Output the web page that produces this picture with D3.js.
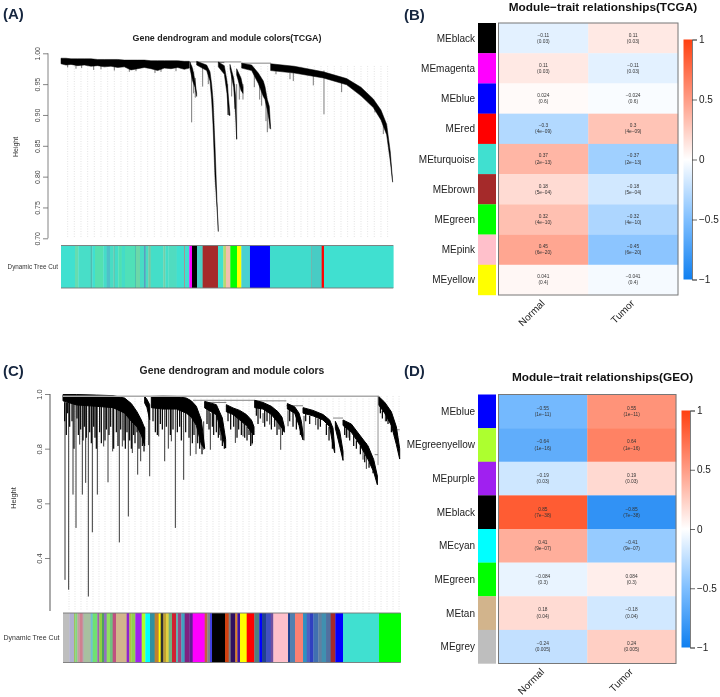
<!DOCTYPE html>
<html>
<head>
<meta charset="utf-8">
<script src="https://cdn.jsdelivr.net/npm/d3@7"></script>
<style>
  html, body { margin: 0; padding: 0; background: #fff; }
  svg { display: block; filter: blur(0.3px); }
  text { font-family: "Liberation Sans", Arial, sans-serif; }
</style>
</head>
<body>
<div id="chart"></div>
<script>
// heatmap values
const tcgaModules = ["MEblack", "MEmagenta", "MEblue", "MEred", "MEturquoise", "MEbrown", "MEgreen", "MEpink", "MEyellow"];
const tcgaColors = ["#000000", "#ff00ff", "#0000ff", "#ff0000", "#40e0d0", "#a52a2a", "#00ff00", "#ffc0cb", "#ffff00"];
const tcgaNormal = [-0.11, 0.11, 0.024, -0.3, 0.37, 0.18, 0.32, 0.45, 0.041];
const tcgaTumor = [0.11, -0.11, -0.024, 0.3, -0.37, -0.18, -0.32, -0.45, -0.041];
const tcgaP = ["0.03", "0.03", "0.6", "4e−09", "2e−13", "5e−04", "4e−10", "6e−20", "0.4"];

const geoModules = ["MEblue", "MEgreenyellow", "MEpurple", "MEblack", "MEcyan", "MEgreen", "MEtan", "MEgrey"];
const geoColors = ["#0000ff", "#adff2f", "#a020f0", "#000000", "#00ffff", "#00ff00", "#d2b48c", "#bebebe"];
const geoNormal = [-0.55, -0.64, -0.19, 0.85, 0.41, -0.084, 0.18, -0.24];
const geoTumor = [0.55, 0.64, 0.19, -0.85, -0.41, 0.084, -0.18, 0.24];
const geoP = ["1e−11", "1e−16", "0.03", "7e−38", "9e−07", "0.3", "0.04", "0.005"];

const traits = ["Normal", "Tumor"];
const legendTicks = [-1, -0.5, 0, 0.5, 1];

// dendrogram (A): [gene order, top height, bottom height]
const bandsA = [
  [[0,.992,.983],[15,.992,.981],[30,.991,.982],[50,.991,.980],[70,.991,.981],[90,.991,.979],[110,.990,.980],[130,.990,.978],[150,.990,.979],[170,.990,.977],[190,.989,.978],[210,.989,.973],[230,.989,.975],[250,.989,.977],[270,.988,.975],[290,.988,.972],[310,.988,.976],[330,.988,.975],[350,.988,.977],[370,.987,.974],[385,.987,.976]],
  [[387,.986,.975],[395,.975,.955],[402,.955,.945],[407,.935,.930]],
  [[407,.987,.981],[437,.981,.972],[447,.970,.955],[452,.950,.925],[456,.925,.885],[462,.850,.800],[468,.760,.750],[472,.712,.711]],
  [[472,.986,.978],[490,.980,.966],[498,.955,.935],[503,.925,.900],[507,.900,.899]],
  [[507,.982,.975],[518,.960,.945],[524,.930,.900],[527,.862,.861]],
  [[527,.975,.965],[540,.960,.940],[546,.945,.935]],
  [[542,.984,.976],[572,.981,.972],[592,.968,.951],[607,.955,.930],[612,.946,.925],[619,.925,.908],[625,.914,.890],[629,.878,.877]],
  [[629,.983,.972],[700,.979,.968],[787,.970,.960],[857,.959,.949],[900,.945,.931],[937,.926,.912],[960,.908,.892],[977,.885,.868],[988,.840,.825],[995,.792,.791]]
];
const spikesA = [
  [20,.985,.977],[45,.985,.975],[62,.985,.976],[98,.985,.973],[120,.985,.974],[160,.985,.972],[205,.985,.970],[225,.985,.971],[282,.985,.968],[300,.985,.970],[345,.985,.971],
  [392,.980,.888],[398,.970,.935],[403,.960,.928],[425,.980,.946],[442,.970,.950],[500,.950,.900],[512,.965,.930],[521,.950,.910],[527,.950,.860],[535,.955,.925],[546,.950,.925],
  [580,.970,.945],[596,.955,.925],[602,.950,.915],[615,.925,.890],[619,.920,.872],[625,.900,.878],
  [645,.972,.966],[687,.968,.958],[697,.968,.955],[757,.968,.948],[789,.972,.901],[842,.960,.937],[942,.915,.904],[967,.890,.869]
];
const linksA = [[385,541,.986],[541,630,.984],[472,490,.985]];

// dendrogram (C)
const bandsC = [
  [[0,.998,.975],[40,.998,.960],[100,.996,.955],[150,.994,.950],[185,.985,.930],[205,.965,.900],[222,.935,.880],[235,.905,.850],[245,.875,.810]],
  [[245,.991,.967],[252,.980,.950],[260,.961,.906]],
  [[265,.991,.950],[300,.992,.945],[340,.991,.945],[370,.985,.930],[385,.975,.915],[400,.955,.885],[415,.905,.815],[425,.802,.800]],
  [[425,.973,.949],[460,.961,.924],[478,.912,.845],[488,.833,.802]],
  [[490,.961,.935],[510,.949,.925],[530,.940,.905],[550,.925,.885],[565,.905,.860],[573,.880,.850]],
  [[575,.977,.950],[600,.969,.945],[625,.955,.925],[645,.935,.895],[657,.915,.875],[664,.880,.860]],
  [[673,.965,.945],[695,.953,.930],[708,.930,.885],[715,.900,.850],[720,.855,.832]],
  [[720,.950,.930],[750,.940,.920],[780,.925,.905],[800,.905,.880],[810,.875,.810],[815,.800,.785]],
  [[817,.900,.875],[830,.865,.810],[840,.790,.757]],
  [[840,.905,.885],[865,.890,.860],[890,.850,.815],[915,.810,.760],[932,.760,.715],[943,.700,.668]],
  [[947,.991,.960],[965,.970,.930],[985,.935,.885],[1000,.880,.815],[1010,.800,.762]]
];
const spikesC = [
  [6,.99,.320],[17,.99,.284],[30,.98,.632],[39,.98,.510],[50,.98,.815],[58,.98,.632],[68,.98,.675],[76,.98,.259],[88,.98,.494],[103,.98,.632],[122,.98,.808],[135,.98,.677],[149,.98,.790],[169,.97,.457],[178,.97,.808],[196,.96,.552],[208,.95,.784],[224,.92,.705],[233,.90,.754],[245,.88,.833],
  [257,.95,.813],[260,.95,.699],[287,.97,.845],[305,.97,.754],[316,.97,.800],[325,.97,.827],[337,.97,.510],[362,.96,.686],[382,.95,.774],[399,.93,.780],[422,.90,.796],[442,.93,.796],[470,.92,.850],
  [517,.93,.821],[540,.92,.845],[567,.90,.815],[600,.93,.894],[620,.93,.888],[653,.92,.796],[675,.94,.882],[723,.92,.830],[758,.92,.886],[855,.88,.840],[885,.85,.825],[910,.82,.726],[900,.83,.760],[967,.95,.900],[995,.88,.850]
];
const hairsC = [
  [5,.97,.90],[10,.97,.85],[14,.97,.93],[20,.97,.88],[27,.97,.90],[33,.97,.80],[42,.97,.91],[46,.97,.85],[53,.97,.87],[60,.97,.83],[64,.97,.88],[70,.97,.84],[80,.97,.86],[85,.97,.82],[92,.97,.88],[96,.97,.84],[100,.97,.80],[110,.97,.86],[115,.97,.82],[126,.97,.83],[130,.97,.87],[138,.97,.85],[143,.97,.88],[152,.97,.80],[160,.97,.86],[165,.97,.81],[173,.96,.87],[183,.95,.83],[187,.95,.80],[192,.94,.86],[200,.93,.83],[205,.92,.80],[212,.92,.85],[216,.91,.82],[222,.90,.86],[228,.89,.80],[238,.87,.81],[243,.85,.79],
  [270,.97,.90],[277,.97,.86],[283,.97,.85],[292,.97,.89],[298,.97,.87],[310,.97,.88],[322,.97,.85],[330,.97,.87],[343,.97,.86],[350,.97,.88],[355,.97,.83],[368,.96,.86],[378,.94,.84],[388,.93,.82],[393,.92,.85],[404,.90,.82],[410,.88,.80],[417,.85,.78],
  [432,.95,.89],[438,.95,.87],[448,.94,.88],[452,.94,.85],[460,.93,.86],[466,.90,.84],[474,.87,.83],[478,.87,.81],[484,.84,.80],
  [495,.94,.90],[503,.93,.87],[512,.93,.88],[522,.92,.84],[527,.91,.87],[535,.90,.85],[545,.89,.84],[552,.88,.83],[558,.87,.85],[563,.87,.81],[568,.86,.82],
  [580,.96,.92],[585,.95,.89],[592,.95,.91],[605,.95,.88],[612,.94,.90],[625,.93,.87],[635,.92,.88],[642,.90,.85],[648,.89,.87],[658,.88,.85],
  [680,.95,.90],[690,.94,.88],[700,.92,.87],[712,.88,.85],[728,.93,.90],[740,.92,.89],[765,.91,.87],[772,.91,.88],[790,.89,.85],[798,.88,.83],[808,.83,.80],
  [845,.88,.85],[850,.88,.84],[860,.87,.83],[872,.85,.81],[880,.83,.80],[892,.81,.78],[905,.78,.75],[918,.75,.73],[930,.72,.71],
  [952,.96,.93],[958,.94,.91],[970,.92,.90],[975,.91,.89],[985,.89,.86]
];
const linksC = [[390,575,.977],[425,490,.969],[575,670,.975],[670,720,.957],[810,840,.912],[935,945,.778],[995,1010,.869]];

// module colour rows under the dendrograms: [end order, colour]
const rowA = [[42,"#40e0d0"],[52,"#66dcb0"],[89,"#48dec8"],[94,"#50bcb0"],[102,"#40e0d0"],[127,"#55e0b0"],[137,"#45dcc8"],[147,"#4fc0c8"],[157,"#48dcc4"],[162,"#60c8b0"],[172,"#44dcc8"],[182,"#50e0b0"],[192,"#44dcc8"],[222,"#50e0b8"],[225,"#50c0b0"],[237,"#6cd8a8"],[249,"#48dcc4"],[254,"#5a9ec0"],[262,"#48dcc4"],[269,"#78c8a0"],[307,"#44dec8"],[313,"#70d0a8"],[322,"#44dec8"],[347,"#50dcc0"],[370,"#40e0d0"],[372,"#b86a70"],[385,"#40e0d0"],[393,"#ff00ff"],[408,"#000000"],[425,"#4cd0c4"],[471,"#a52a2a"],[487,"#40e0d0"],[495,"#b8d870"],[508,"#f0c0b0"],[528,"#00ff00"],[541,"#ffff00"],[567,"#48d0d0"],[627,"#0000ff"],[750,"#40dccc"],[753,"#70b8b0"],[782,"#48ccc4"],[789,"#ff0000"],[997,"#40e0d0"]];
const rowC = [[19,"#bebebe"],[33,"#b0b0d0"],[37,"#a0c060"],[43,"#80d880"],[49,"#c0a0a0"],[59,"#d08090"],[63,"#b0b0b0"],[83,"#a8c0a0"],[89,"#70c0d0"],[103,"#70e070"],[109,"#a060b0"],[117,"#90d040"],[123,"#50a060"],[131,"#9070c0"],[141,"#90e060"],[149,"#70c080"],[159,"#c05080"],[191,"#d2b48c"],[199,"#9020d0"],[205,"#b0c040"],[217,"#90d050"],[236,"#a020f0"],[247,"#adff2f"],[261,"#00ffff"],[275,"#3090a0"],[287,"#c08030"],[293,"#ffff00"],[301,"#303030"],[309,"#c0a030"],[317,"#e0d040"],[327,"#70b080"],[339,"#d02030"],[345,"#60b0b0"],[355,"#a04080"],[365,"#40a0c0"],[379,"#802080"],[389,"#602090"],[425,"#ff00ff"],[433,"#c06040"],[441,"#808090"],[447,"#4040e0"],[486,"#000000"],[497,"#d04010"],[503,"#808080"],[517,"#301060"],[523,"#e08020"],[531,"#4010a0"],[551,"#ffff00"],[574,"#ff0000"],[589,"#508080"],[597,"#0000ff"],[609,"#204090"],[623,"#4050c0"],[631,"#7050a0"],[675,"#ffc0cb"],[681,"#204090"],[696,"#5080b0"],[720,"#fa8072"],[731,"#3090c0"],[739,"#5060c0"],[751,"#3040c0"],[766,"#4070b0"],[776,"#6080a0"],[789,"#4090b0"],[803,"#5070a0"],[817,"#a52a2a"],[840,"#0000ff"],[948,"#40e0d0"],[1013,"#00ff00"]];

const width = 720, height = 697;
const svg = d3.select("#chart").append("svg").attr("width", width).attr("height", height);

const heatColor = d3.scaleLinear()
  .domain([-1, -0.5, 0, 0.5, 1])
  .range(["#0f7ff0", "#7fbfff", "#ffffff", "#ff9c85", "#ff4010"]);

function panelLabel(txt, x, y) {
  svg.append("text").attr("x", x).attr("y", y).text(txt)
    .style("font-size", "15px").style("font-weight", "bold").style("fill", "#16263f");
}

function drawDendro(o) {
  const g = svg.append("g");
  const x = d3.scaleLinear().domain([0, o.maxOrder]).range([o.x0, o.x1]);
  const y = d3.scaleLinear().domain(o.yDomain).range([o.yBottom, o.yTop]);

  // guide lines
  g.selectAll(".guide").data(d3.range(o.guideStart, o.maxOrder, o.guideStep)).enter()
    .append("line")
    .attr("x1", d => x(d)).attr("x2", d => x(d))
    .attr("y1", o.guideTop).attr("y2", o.guideBottom)
    .style("stroke", "#d8d8d8").style("stroke-width", 0.7).style("stroke-dasharray", "1,1.5");

  // tree links
  g.selectAll(".link").data(o.links).enter().append("line")
    .attr("x1", d => x(d[0])).attr("x2", d => x(d[1]))
    .attr("y1", d => y(d[2])).attr("y2", d => y(d[2]))
    .style("stroke", "#333").style("stroke-width", 0.6);

  // hanging leaves
  g.selectAll(".spike").data(o.spikes).enter().append("line")
    .attr("x1", d => x(d[0])).attr("x2", d => x(d[0]))
    .attr("y1", d => y(d[1])).attr("y2", d => y(d[2]))
    .style("stroke", "#222").style("stroke-width", o.spikeWidth);
  g.selectAll(".hair").data(o.hairs).enter().append("line")
    .attr("x1", d => x(d[0])).attr("x2", d => x(d[0]))
    .attr("y1", d => y(d[1])).attr("y2", d => y(d[2]))
    .style("stroke", "#000").style("stroke-width", 1.2);

  // dense branches
  const area = d3.area().x(d => x(d[0])).y0(d => y(d[2])).y1(d => y(d[1]));
  g.selectAll(".band").data(o.bands).enter().append("path")
    .attr("d", area).style("fill", "#000").style("stroke", "#000").style("stroke-width", o.bandStroke);

  // axis
  const axis = d3.axisLeft(y).tickValues(o.ticks).tickFormat(d3.format(o.tickFmt)).tickSize(5);
  const ax = g.append("g").attr("transform", `translate(${o.axisX},0)`).call(axis);
  ax.select(".domain").remove();
  ax.selectAll("line").style("stroke", "#666").style("stroke-width", 0.8);
  ax.selectAll("text")
    .attr("transform", "rotate(-90)")
    .attr("x", 0).attr("y", -8.5).attr("dy", 0)
    .style("text-anchor", "middle")
    .style("font-size", o.axisFont + "px").style("fill", "#444");
  ax.append("line").attr("x1", 0).attr("x2", 0).attr("y1", o.yTop).attr("y2", o.axisEnd)
    .style("stroke", "#666").style("stroke-width", o.axisWidth);

  g.append("text")
    .attr("transform", `translate(${o.heightX},${o.heightY}) rotate(-90)`)
    .style("text-anchor", "middle").style("font-size", o.axisFont + "px").style("fill", "#333")
    .text("Height");

  g.append("text").attr("x", o.titleX).attr("y", o.titleY)
    .style("text-anchor", "middle").style("font-size", o.titleFont + "px")
    .style("font-weight", "bold").style("fill", "#222").text(o.title);

  // module colours
  const row = g.append("g");
  row.selectAll("rect").data(o.row).enter().append("rect")
    .attr("x", (d, i) => x(i ? o.row[i - 1][0] : 0))
    .attr("width", (d, i) => x(d[0]) - x(i ? o.row[i - 1][0] : 0) + 0.3)
    .attr("y", o.rowTop).attr("height", o.rowBottom - o.rowTop)
    .style("fill", d => d[1]);
  [o.rowTop, o.rowBottom].forEach(v => {
    row.append("line").attr("x1", o.x0).attr("x2", o.x1).attr("y1", v).attr("y2", v)
      .style("stroke", "#777").style("stroke-width", 0.9);
  });
  g.append("text").attr("x", o.cutX).attr("y", (o.rowTop + o.rowBottom) / 2 + 2)
    .style("text-anchor", "end").style("font-size", o.cutFont + "px").style("fill", "#333")
    .text("Dynamic Tree Cut");
}

function drawHeat(o) {
  const g = svg.append("g");
  const yBand = d3.scaleBand().domain(o.modules).range([o.top, o.bottom]);
  const xBand = d3.scaleBand().domain(traits).range([o.left, o.right]);

  g.selectAll(".swatch").data(o.modules).enter().append("rect")
    .attr("x", 478).attr("width", 18)
    .attr("y", d => yBand(d)).attr("height", yBand.bandwidth() + 0.2)
    .style("fill", (d, i) => o.colors[i]);

  g.selectAll(".mod").data(o.modules).enter().append("text")
    .attr("x", 475).attr("y", d => yBand(d) + yBand.bandwidth() / 2 + 3.5)
    .style("text-anchor", "end").style("font-size", "10px").style("fill", "#222")
    .text(d => d);

  [o.normal, o.tumor].forEach((vals, c) => {
    const colX = xBand(traits[c]);
    g.selectAll(".cell" + c).data(o.modules).enter().append("rect")
      .attr("x", colX).attr("width", xBand.bandwidth() + 0.2)
      .attr("y", d => yBand(d)).attr("height", yBand.bandwidth() + 0.2)
      .style("fill", (d, i) => heatColor(vals[i]));
    g.selectAll(".val" + c).data(o.modules).enter().append("text")
      .attr("x", colX + xBand.bandwidth() / 2).attr("y", d => yBand(d) + yBand.bandwidth() / 2 - 1.6)
      .style("text-anchor", "middle").style("font-size", "4.8px").style("fill", "#333")
      .text((d, i) => String(vals[i]).replace("-", "−"));
    g.selectAll(".p" + c).data(o.modules).enter().append("text")
      .attr("x", colX + xBand.bandwidth() / 2).attr("y", d => yBand(d) + yBand.bandwidth() / 2 + 4.6)
      .style("text-anchor", "middle").style("font-size", "4.8px").style("fill", "#333")
      .text((d, i) => "(" + o.p[i] + ")");
  });

  g.append("rect").attr("x", o.left).attr("y", o.top)
    .attr("width", o.right - o.left).attr("height", o.bottom - o.top)
    .style("fill", "none").style("stroke", "#777").style("stroke-width", 1);

  traits.forEach(t => {
    const cx = xBand(t) + xBand.bandwidth() / 2;
    g.append("text").attr("transform", `translate(${cx + 2},${o.bottom + 9}) rotate(-45)`)
      .style("text-anchor", "end").style("font-size", "10px").style("fill", "#222").text(t);
  });

  g.append("text").attr("x", o.titleX).attr("y", o.titleY)
    .style("text-anchor", "middle").style("font-size", o.titleFont + "px")
    .style("font-weight", "bold").style("fill", "#111").text(o.title);

  // colour legend
  const id = "grad" + o.title.length;
  const grad = svg.append("defs").append("linearGradient").attr("id", id)
    .attr("x1", 0).attr("x2", 0).attr("y1", 1).attr("y2", 0);
  legendTicks.forEach(t => {
    grad.append("stop").attr("offset", (t + 1) / 2).attr("stop-color", heatColor(t));
  });
  g.append("rect").attr("x", o.legX).attr("width", 8.5)
    .attr("y", o.legTop).attr("height", o.legBottom - o.legTop)
    .style("fill", `url(#${id})`);
  const legScale = d3.scaleLinear().domain([-1, 1]).range([o.legBottom, o.legTop]);
  const ax = g.append("g").attr("transform", `translate(${o.legX + 8.5},0)`)
    .call(d3.axisRight(legScale).tickValues(legendTicks)
      .tickFormat(d => String(d).replace("-", "−")).tickSize(5).tickPadding(2));
  ax.select(".domain").style("stroke", "#444").style("stroke-width", 0.7);
  ax.selectAll("line").style("stroke", "#444").style("stroke-width", 0.8);
  ax.selectAll("text").style("font-size", "10px").style("fill", "#222");
}

panelLabel("(A)", 3, 19);
panelLabel("(B)", 404, 20);
panelLabel("(C)", 3, 376);
panelLabel("(D)", 404, 376);

drawDendro({
  maxOrder: 997, x0: 61, x1: 393.3, yDomain: [0.70, 1.00], yBottom: 238.3, yTop: 53.3,
  bands: bandsA, spikes: spikesA, hairs: [], links: linksA, spikeWidth: 0.6, bandStroke: 0.5,
  guideStart: 20, guideStep: 20, guideTop: 66, guideBottom: 238,
  ticks: [0.70, 0.75, 0.80, 0.85, 0.90, 0.95, 1.00], tickFmt: ".2f", axisX: 48, axisEnd: 238.3, axisWidth: 0.8,
  axisFont: 7, heightX: 18, heightY: 147,
  title: "Gene dendrogram and module colors(TCGA)", titleX: 227, titleY: 41, titleFont: 8.9,
  row: rowA, rowTop: 245.5, rowBottom: 288, cutX: 58, cutFont: 6.3
});

drawDendro({
  maxOrder: 1013, x0: 63, x1: 400.7, yDomain: [0.4, 1.0], yBottom: 558, yTop: 394,
  bands: bandsC, spikes: spikesC, hairs: hairsC, links: linksC, spikeWidth: 0.9, bandStroke: 1,
  guideStart: 18, guideStep: 18, guideTop: 396, guideBottom: 611,
  ticks: [0.4, 0.6, 0.8, 1.0], tickFmt: ".1f", axisX: 50, axisEnd: 611, axisWidth: 1.1,
  axisFont: 7.5, heightX: 15.5, heightY: 498,
  title: "Gene dendrogram and module colors", titleX: 232, titleY: 374, titleFont: 10.4,
  row: rowC, rowTop: 613, rowBottom: 662.5, cutX: 59.5, cutFont: 7
});

// top gray link in (C) spanning the two main branches
const xC = d3.scaleLinear().domain([0, 1013]).range([63, 400.7]);
const yC = d3.scaleLinear().domain([0.4, 1.0]).range([558, 394]);
const topLinkC = [[0, 947, .992]];
const stemC = [[945, .992, .74]];
svg.selectAll(".toplink").data(topLinkC).enter().append("line")
  .attr("x1", d => xC(d[0])).attr("x2", d => xC(d[1])).attr("y1", d => yC(d[2])).attr("y2", d => yC(d[2]))
  .style("stroke", "#aaa").style("stroke-width", 1.4);
svg.selectAll(".stem").data(stemC).enter().append("line")
  .attr("x1", d => xC(d[0])).attr("x2", d => xC(d[0])).attr("y1", d => yC(d[1])).attr("y2", d => yC(d[2]))
  .style("stroke", "#777").style("stroke-width", 0.8);

drawHeat({
  modules: tcgaModules, colors: tcgaColors, normal: tcgaNormal, tumor: tcgaTumor, p: tcgaP,
  top: 23, bottom: 295, left: 498.5, right: 678,
  legX: 683.5, legTop: 39.5, legBottom: 279.5,
  title: "Module−trait relationships(TCGA)", titleX: 603, titleY: 11, titleFont: 11.8
});

drawHeat({
  modules: geoModules, colors: geoColors, normal: geoNormal, tumor: geoTumor, p: geoP,
  top: 394.5, bottom: 663.5, left: 498.5, right: 676,
  legX: 681.5, legTop: 410.5, legBottom: 647.5,
  title: "Module−trait relationships(GEO)", titleX: 602.5, titleY: 381, titleFont: 11.8
});
</script>
</body>
</html>
